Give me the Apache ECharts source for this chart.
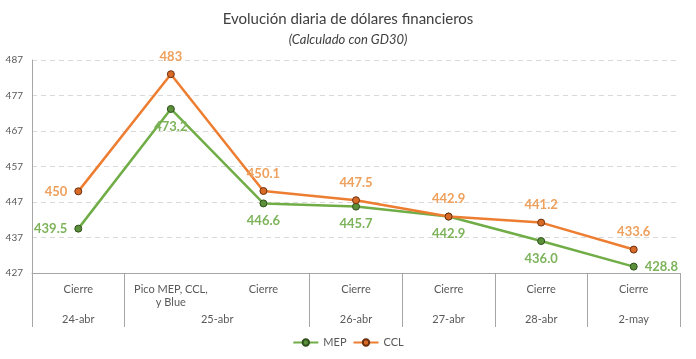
<!DOCTYPE html>
<html><head><meta charset="utf-8">
<script src="https://cdn.jsdelivr.net/npm/echarts@6/dist/echarts.min.js"></script>
<style>html,body{margin:0;padding:0;background:#fff}#c{width:696px;height:359px}</style>
</head><body><div id="c"></div>
<script>
const categories = ['Cierre', 'Pico MEP, CCL,\ny Blue', 'Cierre', 'Cierre', 'Cierre', 'Cierre', 'Cierre'];
const dates = ['24-abr', '25-abr', '25-abr', '26-abr', '27-abr', '28-abr', '2-may'];
const mep = [439.5, 473.2, 446.6, 445.7, 442.9, 436.0, 428.8];
const ccl = [450, 483, 450.1, 447.5, 442.9, 441.2, 433.6];
const yTicks = [427, 437, 447, 457, 467, 477, 487];

const mepLabelPos = ['left', 'bottom', 'bottom', 'bottom', 'bottom', 'bottom', 'right'];
const cclLabelPos = ['left', 'top', 'top', 'top', 'top', 'top', 'top'];

const groups = [];
dates.forEach((d, i) => {
  const g = groups[groups.length - 1];
  if (g && g.name === d) g.end = i + 1; else groups.push({ name: d, start: i, end: i + 1 });
});
const groupCenters = groups.map(g => (g.start + g.end) / 2);

const FONT = 'Lato';
const chart = echarts.init(document.getElementById('c'));
chart.setOption({
  animation: false,
  textStyle: { fontFamily: FONT },
  title: [
    { text: 'Evolución diaria de dólares financieros', left: 'center', top: 7,
      textStyle: { fontSize: 15, fontWeight: 'normal', color: '#404040', fontFamily: FONT } },
    { text: '(Calculado con GD30)', left: 'center', top: 28,
      textStyle: { fontSize: 13, fontWeight: 'normal', fontStyle: 'italic', color: '#404040', fontFamily: FONT } }
  ],
  legend: {
    bottom: 6, left: 'center', itemWidth: 25, itemHeight: 8, itemGap: 6,
    textStyle: { fontSize: 11, color: '#595959', fontFamily: FONT },
    data: ['MEP', 'CCL']
  },
  grid: { left: 32, right: 16, top: 60, bottom: 86 },
  xAxis: [
    {
      type: 'category', data: categories, boundaryGap: true, position: 'bottom',
      axisLine: { show: true, lineStyle: { color: '#a6a6a6', width: 1 } },
      axisTick: {
        show: true, length: 54, lineStyle: { color: '#a6a6a6' },
        interval: (i) => i === 0 || dates[i] !== dates[i - 1]
      },
      axisLabel: { interval: 0, margin: 10, fontSize: 11, color: '#595959', lineHeight: 13, fontFamily: FONT },
      splitLine: { show: false }
    },
    {
      type: 'value', min: 0, max: dates.length, position: 'bottom',
      axisLine: { show: false }, axisTick: { show: false }, splitLine: { show: false },
      axisLabel: {
        customValues: groupCenters, margin: 41, fontSize: 11, color: '#595959', fontFamily: FONT,
        formatter: (v) => { const g = groups.find(gg => Math.abs((gg.start + gg.end) / 2 - v) < 1e-6); return g ? g.name : ''; }
      }
    }
  ],
  yAxis: {
    type: 'value', min: yTicks[0], max: yTicks[yTicks.length - 1],
    axisLine: { show: true, lineStyle: { color: '#a6a6a6' } },
    axisTick: { show: false, customValues: yTicks },
    axisLabel: { customValues: yTicks, fontSize: 10, color: '#595959', margin: 9, fontFamily: FONT },
    splitLine: { show: true, lineStyle: { color: '#d9d9d9', type: [5, 4] } }
  },
  series: [
    {
      name: 'MEP', type: 'line', xAxisIndex: 0,
      data: mep.map((v, i) => ({ value: v, label: { position: mepLabelPos[i] } })),
      symbol: 'circle', symbolSize: 7,
      lineStyle: { color: '#70AD47', width: 2.5 },
      itemStyle: { color: '#5b8f3a', borderColor: '#2f4f1c', borderWidth: 1 },
      label: { show: true, distance: 7, fontSize: 13, fontWeight: 'bold', color: '#7DB35A', fontFamily: FONT,
        formatter: (p) => p.value.toFixed(1) },
      z: 2
    },
    {
      name: 'CCL', type: 'line', xAxisIndex: 0,
      data: ccl.map((v, i) => ({ value: v, label: { position: cclLabelPos[i] } })),
      symbol: 'circle', symbolSize: 7,
      lineStyle: { color: '#ED7D31', width: 2.5 },
      itemStyle: { color: '#d86a28', borderColor: '#6b2f0e', borderWidth: 1 },
      label: { show: true, distance: 7, fontSize: 13, fontWeight: 'bold', color: '#EEA05C', fontFamily: FONT },
      z: 3
    }
  ]
});
</script></body></html>
